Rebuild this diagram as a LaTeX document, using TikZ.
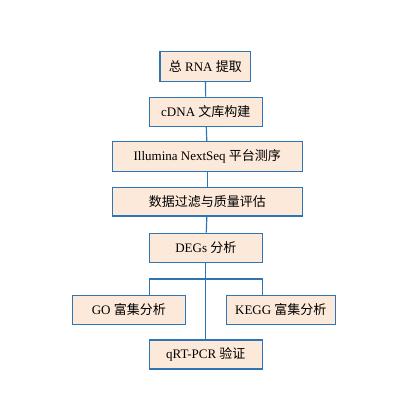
\documentclass[tikz,border=0pt]{standalone}
\usepackage{fontspec}
\setmainfont{Liberation Serif}
\newfontfamily\cjk{Noto Sans CJK SC}
\definecolor{boxblue}{HTML}{2E75B6}
\definecolor{boxfill}{HTML}{FCE9DA}
\begin{document}
\begin{tikzpicture}[x=1pt,y=-1pt,
  stepbox/.style={draw=boxblue,fill=boxfill,line width=1.2pt,inner sep=0pt,
    font=\fontsize{13}{15}\selectfont},
  link/.style={draw=boxblue,line width=1.2pt}]
\useasboundingbox (0,0) rectangle (407,418);
\fill[white] (0,0) rectangle (407,418);
\newcommand{\bx}[6]{\node[stepbox,minimum width=#4-#2,minimum height=#5-#3] (#1) at ({(#2+#4)/2},{(#3+#5)/2}) {#6};}
\bx{b1}{160}{51.7}{250.7}{81.3}{{\cjk 总} RNA {\cjk 提取}}
\bx{b2}{149.3}{97.3}{262.3}{126.3}{cDNA {\cjk 文库构建}}
\bx{b3}{112.3}{141.7}{302.3}{171.3}{Illumina NextSeq {\cjk 平台测序}}
\bx{b4}{112.3}{187.3}{302.3}{216}{{\cjk 数据过滤与质量评估}}
\bx{b5}{149.3}{233.3}{262.3}{262.3}{DEGs {\cjk 分析}}
\bx{go}{72.3}{295.3}{185.3}{324.3}{GO {\cjk 富集分析}}
\bx{kegg}{226.3}{295.3}{335.3}{324.3}{KEGG {\cjk 富集分析}}
\bx{qrt}{149.3}{340}{262.3}{369}{qRT-PCR {\cjk 验证}}
\coordinate (bl) at (149.3,279);
\coordinate (br) at (262.3,279);
\draw[link] (b1) -- (b2);
\draw[link] (b2) -- (b3);
\draw[link] (b3) -- (b4);
\draw[link] (b4) -- (b5);
\draw[link] (b5) -- (qrt);
\draw[link] (go.north -| bl) -- (bl) -- (br) -- (kegg.north -| br);
\end{tikzpicture}
\end{document}
